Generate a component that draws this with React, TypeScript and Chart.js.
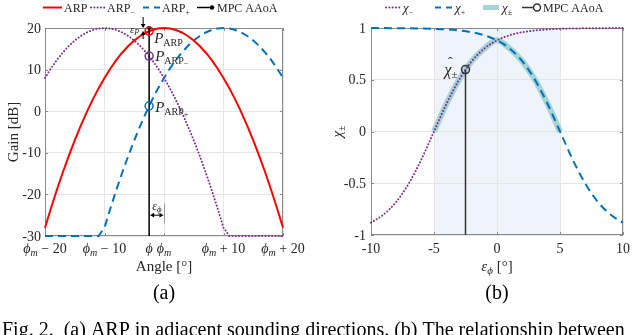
import React, { useEffect, useRef } from 'react';
import { Chart, registerables } from 'chart.js';
Chart.register(...registerables);

// ---------- data: (a) angle response patterns ----------
const angleOffsets = [-20, -19, -18, -17, -16, -15, -14, -13, -12, -11, -10, -9, -8, -7, -6, -5, -4, -3, -2, -1, 0, 1, 2, 3, 4, 5, 6, 7, 8, 9, 10, 11, 12, 13, 14, 15, 16, 17, 18, 19, 20];
const arpGain = [-28, -23.32, -18.88, -14.68, -10.72, -7, -3.52, -0.28, 2.72, 5.48, 8, 10.28, 12.32, 14.12, 15.68, 17, 18.08, 18.92, 19.52, 19.88, 20, 19.88, 19.52, 18.92, 18.08, 17, 15.68, 14.12, 12.32, 10.28, 8, 5.48, 2.72, -0.28, -3.52, -7, -10.72, -14.68, -18.88, -23.32, -28];
const arpMinusGain = [8, 10.28, 12.32, 14.12, 15.68, 17, 18.08, 18.92, 19.52, 19.88, 20, 19.88, 19.52, 18.92, 18.08, 17, 15.68, 14.12, 12.32, 10.28, 8, 5.48, 2.72, -0.28, -3.52, -7, -10.72, -14.68, -18.88, -23.32, -28, -30, -30, -30, -30, -30, -30, -30, -30, -30, -30];
const arpPlusGain = [-30, -30, -30, -30, -30, -30, -30, -30, -30, -30, -28, -23.32, -18.88, -14.68, -10.72, -7, -3.52, -0.28, 2.72, 5.48, 8, 10.28, 12.32, 14.12, 15.68, 17, 18.08, 18.92, 19.52, 19.88, 20, 19.88, 19.52, 18.92, 18.08, 17, 15.68, 14.12, 12.32, 10.28, 8];
const mpcAngle = -2.5;
const mpcLineGain = [-30, 20];
const markerGains = [19.25, 13.25, 1.25]; // P_ARP, P_ARP-, P_ARP+
const gainTicks = [-30, -20, -10, 0, 10, 20];
const gainTickLabels = ['-30', '-20', '-10', '0', '10', '20'];
const angleTicks = [-20, -10, -2.5, 0, 10, 20];
const angleTickLabels = ['ϕ_m − 20', 'ϕ_m − 10', 'ϕ', 'ϕ_m', 'ϕ_m + 10', 'ϕ_m + 20'];
const epsPhiLevel = -25;

// ---------- data: (b) chi vs angle error ----------
const errAngles = [-10, -9, -8, -7, -6, -5, -4, -3, -2, -1, 0, 1, 2, 3, 4, 5, 6, 7, 8, 9, 10];
const chiMinus = [-0.881, -0.802, -0.68, -0.502, -0.27, 0, 0.27, 0.502, 0.68, 0.802, 0.881, 0.93, 0.959, 0.976, 0.986, 0.992, 0.995, 0.997, 0.998, 0.999, 1.0];
const chiPlus = [1.0, 0.999, 0.998, 0.997, 0.995, 0.992, 0.986, 0.976, 0.959, 0.93, 0.881, 0.802, 0.68, 0.502, 0.27, 0, -0.27, -0.502, -0.68, -0.802, -0.881];
const chiPMAngles = [-5, -4, -3, -2, -1, 0, 1, 2, 3, 4, 5];
const chiPM = [0, 0.27, 0.502, 0.68, 0.802, 0.881, 0.802, 0.68, 0.502, 0.27, 0];
const mpcErr = -2.5;
const mpcChi = [-1, 0.5985];
const bandRange = [-5, 5];
const chiTicks = [-1, -0.5, 0, 0.5, 1];
const chiTickLabels = ['-1', '-0.5', '0', '0.5', '1'];
const errTicks = [-10, -5, 0, 5, 10];
const errTickLabels = ['-10', '-5', '0', '5', '10'];

// ---------- styles ----------
const SERIF = '"Liberation Serif", "DejaVu Serif", "Times New Roman", serif';
const RED = '#FF0000';
const PURPLE = '#7E2F8E';
const BLUE = '#0072BD';
const TEAL = '#A6D3D6';
const BAND = '#EFF3FA';
const GRID = '#E6E6E6';
const FRAME = '#8A8A8A';
const TXT = '#262626';
const DOT = [0.1, 3.2];
const DASH = [8, 5];

type Seg = { t: string; f: string; dy?: number };
const F = (size: number, italic = false) => `${italic ? 'italic ' : ''}${size}px ${SERIF}`;

function rich(ctx: any, segs: Seg[], x: number, y: number, align = 'left', color = TXT) {
  ctx.save();
  ctx.fillStyle = color;
  ctx.textAlign = 'left';
  ctx.textBaseline = 'alphabetic';
  const widths = segs.map((s) => { ctx.font = s.f; return ctx.measureText(s.t).width; });
  const total = widths.reduce((a, b) => a + b, 0);
  let cx = align === 'center' ? x - total / 2 : align === 'right' ? x - total : x;
  segs.forEach((s, i) => {
    ctx.font = s.f;
    ctx.fillText(s.t, cx, y + (s.dy || 0));
    cx += widths[i];
  });
  ctx.restore();
  return total;
}

function richRot(ctx: any, segs: Seg[], cx: number, cy: number, color = TXT) {
  ctx.save();
  ctx.translate(cx, cy);
  ctx.rotate(-Math.PI / 2);
  rich(ctx, segs, 0, 0, 'center', color);
  ctx.restore();
}

function mathSegs(s: string, size: number, sub: number, subDy: number): Seg[] {
  const out: Seg[] = [];
  const re = /_(.)|([A-Za-z\u0370-\u03FF]+)|([^_A-Za-z\u0370-\u03FF]+)/g;
  let m: any;
  while ((m = re.exec(s))) {
    if (m[1] !== undefined) out.push({ t: m[1], f: F(sub, true), dy: subDy });
    else if (m[2] !== undefined) out.push({ t: m[2], f: F(size, true) });
    else out.push({ t: m[3], f: F(size) });
  }
  return out;
}

function frame(ctx: any, a: any, xs: any, ys: any, xt: number[], yt: number[]) {
  ctx.save();
  ctx.strokeStyle = FRAME;
  ctx.lineWidth = 1;
  ctx.strokeRect(Math.round(a.left) + 0.5, Math.round(a.top) + 0.5, Math.round(a.right - a.left) - 1, Math.round(a.bottom - a.top) - 1);
  ctx.beginPath();
  xt.forEach((v) => {
    const px = Math.round(xs.getPixelForValue(v)) + 0.5;
    ctx.moveTo(px, a.bottom); ctx.lineTo(px, a.bottom - 3);
    ctx.moveTo(px, a.top); ctx.lineTo(px, a.top + 3);
  });
  yt.forEach((v) => {
    const py = Math.round(ys.getPixelForValue(v)) + 0.5;
    ctx.moveTo(a.left, py); ctx.lineTo(a.left + 3, py);
    ctx.moveTo(a.right, py); ctx.lineTo(a.right - 3, py);
  });
  ctx.stroke();
  ctx.restore();
}

function sample(ctx: any, x1: number, x2: number, y: number, color: string, width: number, dash: number[] = [], cap = 'butt') {
  ctx.save();
  ctx.strokeStyle = color;
  ctx.lineWidth = width;
  ctx.setLineDash(dash);
  ctx.lineCap = cap;
  ctx.beginPath();
  ctx.moveTo(x1, y);
  ctx.lineTo(x2, y);
  ctx.stroke();
  ctx.restore();
}

function arrowHead(ctx: any, x: number, y: number, dir: string, size = 4) {
  ctx.beginPath();
  if (dir === 'down') { ctx.moveTo(x, y); ctx.lineTo(x - size * 0.6, y - size); ctx.lineTo(x + size * 0.6, y - size); }
  if (dir === 'up') { ctx.moveTo(x, y); ctx.lineTo(x - size * 0.6, y + size); ctx.lineTo(x + size * 0.6, y + size); }
  if (dir === 'left') { ctx.moveTo(x, y); ctx.lineTo(x + size, y - size * 0.6); ctx.lineTo(x + size, y + size * 0.6); }
  if (dir === 'right') { ctx.moveTo(x, y); ctx.lineTo(x - size, y - size * 0.6); ctx.lineTo(x - size, y + size * 0.6); }
  ctx.closePath();
  ctx.fill();
}

function axis(min: number, max: number, ticks: number[], size: number, pos: string) {
  return {
    type: 'linear',
    position: pos,
    min,
    max,
    afterBuildTicks: (s: any) => { s.ticks = ticks.map((v) => ({ value: v })); },
    afterFit: (s: any) => { if (pos === 'bottom') s.height = size; else s.width = size; },
    ticks: { display: false },
    grid: { color: GRID, lineWidth: 1, drawTicks: false, tickLength: 0 },
    border: { display: false },
  };
}

const pts = (xs: number[], ys: number[]) => xs.map((x, i) => ({ x, y: ys[i] }));

const leftDecor = {
  id: 'leftDecor',
  beforeDatasetsDraw(chart: any) {
    frame(chart.ctx, chart.chartArea, chart.scales.x, chart.scales.y, angleTicks, gainTicks);
  },
  afterDraw(chart: any) {
    const { ctx, chartArea: a } = chart;
    const xs = chart.scales.x;
    const ys = chart.scales.y;
    gainTicks.forEach((v, i) => rich(ctx, [{ t: gainTickLabels[i], f: F(14) }], a.left - 4, ys.getPixelForValue(v) + 4.5, 'right'));
    angleTicks.forEach((v, i) => rich(ctx, mathSegs(angleTickLabels[i], 14, 10, 3), xs.getPixelForValue(v), 253, 'center'));
    rich(ctx, [{ t: 'Angle [°]', f: F(15) }], (a.left + a.right) / 2, 271, 'center');
    richRot(ctx, [{ t: 'Gain [dB]', f: F(15) }], 18, (a.top + a.bottom) / 2);
    rich(ctx, [{ t: '(a)', f: F(20) }], xs.getPixelForValue(0), 299, 'center', '#000');
    rich(ctx, [{ t: 'Fig. 2.  (a) ARP in adjacent sounding directions. (b) The relationship between', f: F(20) }], 2, 336, 'left', '#000');

    // marker labels
    const px = xs.getPixelForValue(mpcAngle) + 5;
    const yA = ys.getPixelForValue(markerGains[0]);
    const yM = ys.getPixelForValue(markerGains[1]);
    const yP = ys.getPixelForValue(markerGains[2]);
    rich(ctx, [{ t: 'P', f: F(15, true) }, { t: 'ARP', f: F(10), dy: 3 }], px, yA + 12);
    rich(ctx, [{ t: 'P', f: F(15, true) }, { t: 'ARP', f: F(10), dy: 3 }, { t: '−', f: F(8), dy: 5 }], px + 1, yM + 5);
    rich(ctx, [{ t: 'P', f: F(15, true) }, { t: 'ARP', f: F(10), dy: 3 }, { t: '+', f: F(8), dy: 5 }], px + 1, yP + 6);

    // epsilon_P annotation
    ctx.save();
    ctx.strokeStyle = '#000';
    ctx.fillStyle = '#000';
    ctx.lineWidth = 1;
    const ax = xs.getPixelForValue(mpcAngle) - 6;
    const yTop = ys.getPixelForValue(20);
    ctx.beginPath();
    ctx.moveTo(ax, yTop - 11); ctx.lineTo(ax, yTop - 3);
    ctx.moveTo(ax, yA + 3); ctx.lineTo(ax, yA + 8);
    ctx.stroke();
    arrowHead(ctx, ax, yTop, 'down', 4);
    arrowHead(ctx, ax, yA, 'up', 4);
    ctx.restore();
    rich(ctx, [{ t: 'ε', f: F(11, true) }, { t: 'P', f: F(8, true), dy: 2 }], ax - 4, yTop + 5, 'right');

    // epsilon_phi annotation
    const x1 = xs.getPixelForValue(mpcAngle) + 1;
    const x2 = xs.getPixelForValue(0);
    const ay = ys.getPixelForValue(epsPhiLevel);
    ctx.save();
    ctx.strokeStyle = '#999';
    ctx.lineWidth = 1;
    ctx.beginPath();
    ctx.moveTo(Math.round(x2) + 0.5, ys.getPixelForValue(-22.3));
    ctx.lineTo(Math.round(x2) + 0.5, ys.getPixelForValue(-27));
    ctx.stroke();
    ctx.strokeStyle = '#000';
    ctx.fillStyle = '#000';
    ctx.beginPath();
    ctx.moveTo(x1 + 3, ay); ctx.lineTo(x2 - 3, ay);
    ctx.stroke();
    arrowHead(ctx, x1, ay, 'left', 4);
    arrowHead(ctx, x2 - 0.5, ay, 'right', 4);
    ctx.restore();
    rich(ctx, [{ t: 'ε', f: F(12, true) }, { t: 'ϕ', f: F(9, true), dy: 2 }], (x1 + x2) / 2, ay - 5, 'center');

    // legend
    const ly = 7.5;
    const lb = 11.5;
    sample(ctx, 43, 62, ly, RED, 2);
    rich(ctx, [{ t: 'ARP', f: F(12) }], 64, lb);
    sample(ctx, 91, 105, ly, PURPLE, 2, DOT, 'round');
    rich(ctx, [{ t: 'ARP', f: F(12) }, { t: '−', f: F(8), dy: 3 }], 107, lb);
    sample(ctx, 143, 160, ly, BLUE, 2, [6, 5]);
    rich(ctx, [{ t: 'ARP', f: F(12) }, { t: '+', f: F(8), dy: 3 }], 162, lb);
    sample(ctx, 197, 212, ly, '#000', 1.5);
    ctx.save();
    ctx.fillStyle = '#000';
    ctx.beginPath(); ctx.arc(212, ly, 2.2, 0, Math.PI * 2); ctx.fill();
    ctx.restore();
    rich(ctx, [{ t: 'MPC AAoA', f: F(12) }], 217, lb);
  },
};

const rightDecor = {
  id: 'rightDecor',
  beforeDraw(chart: any) {
    const { ctx, chartArea: a } = chart;
    const xs = chart.scales.x;
    const x1 = xs.getPixelForValue(bandRange[0]);
    const x2 = xs.getPixelForValue(bandRange[1]);
    ctx.save();
    ctx.fillStyle = BAND;
    ctx.fillRect(x1, a.top, x2 - x1, a.bottom - a.top);
    ctx.restore();
  },
  beforeDatasetsDraw(chart: any) {
    frame(chart.ctx, chart.chartArea, chart.scales.x, chart.scales.y, errTicks, chiTicks);
  },
  afterDraw(chart: any) {
    const { ctx, chartArea: a } = chart;
    const xs = chart.scales.x;
    const ys = chart.scales.y;
    chiTicks.forEach((v, i) => rich(ctx, [{ t: chiTickLabels[i], f: F(14) }], a.left - 5, ys.getPixelForValue(v) + 4.5, 'right'));
    errTicks.forEach((v, i) => rich(ctx, [{ t: errTickLabels[i], f: F(14) }], xs.getPixelForValue(v), 253, 'center'));
    rich(ctx, [{ t: 'ε', f: F(15, true) }, { t: 'ϕ', f: F(11, true), dy: 3 }, { t: ' [°]', f: F(15) }], (a.left + a.right) / 2, 271, 'center');
    richRot(ctx, [{ t: 'χ', f: F(15, true) }, { t: '±', f: F(10), dy: 3 }], 342, (a.top + a.bottom) / 2);
    rich(ctx, [{ t: '(b)', f: F(20) }], (a.left + a.right) / 2, 299, 'center', '#000');

    // chi-hat label
    const cx = xs.getPixelForValue(mpcErr);
    const cy = ys.getPixelForValue(mpcChi[1]);
    const w = rich(ctx, [{ t: 'χ', f: F(16, true) }, { t: '±', f: F(11), dy: 3 }], cx - 8, cy + 5, 'right');
    rich(ctx, [{ t: 'ˆ', f: F(14) }], cx - 8 - w + 6, cy - 3, 'center');

    // legend
    const ly = 7.5;
    const lb = 11.5;
    sample(ctx, 386, 400, ly, PURPLE, 2, DOT, 'round');
    rich(ctx, [{ t: 'χ', f: F(13, true) }, { t: '−', f: F(8), dy: 3 }], 403, lb);
    sample(ctx, 435, 452, ly, BLUE, 2, [6, 5]);
    rich(ctx, [{ t: 'χ', f: F(13, true) }, { t: '+', f: F(8), dy: 3 }], 455, lb);
    sample(ctx, 483, 499, ly, TEAL, 5);
    rich(ctx, [{ t: 'χ', f: F(13, true) }, { t: '±', f: F(8), dy: 3 }], 502, lb);
    sample(ctx, 522, 533.5, ly, '#333', 1.5);
    ctx.save();
    ctx.strokeStyle = '#333';
    ctx.lineWidth = 1.5;
    ctx.beginPath(); ctx.arc(537, ly, 3.5, 0, Math.PI * 2); ctx.stroke();
    ctx.restore();
    rich(ctx, [{ t: 'MPC AAoA', f: F(12) }], 543, lb);
  },
};

export default function App() {
  const leftRef = useRef<HTMLCanvasElement>(null);
  const rightRef = useRef<HTMLCanvasElement>(null);

  useEffect(() => {
    const left = new Chart(leftRef.current as any, {
      type: 'line',
      data: {
        datasets: [
          { label: 'P_ARP', data: pts([mpcAngle], [markerGains[0]]), showLine: false, pointRadius: 4, pointBorderWidth: 1.5, pointBorderColor: RED, pointBackgroundColor: 'rgba(0,0,0,0)', clip: false },
          { label: 'P_ARP-', data: pts([mpcAngle], [markerGains[1]]), showLine: false, pointRadius: 4, pointBorderWidth: 1.5, pointBorderColor: PURPLE, pointBackgroundColor: 'rgba(0,0,0,0)', clip: false },
          { label: 'P_ARP+', data: pts([mpcAngle], [markerGains[2]]), showLine: false, pointRadius: 4, pointBorderWidth: 1.5, pointBorderColor: BLUE, pointBackgroundColor: 'rgba(0,0,0,0)', clip: false },
          { label: 'MPC AAoA', data: pts([mpcAngle, mpcAngle], mpcLineGain), borderColor: '#000', borderWidth: 1.5, pointRadius: [0, 2], pointBackgroundColor: '#000', pointBorderWidth: 0, clip: false },
          { label: 'ARP', data: pts(angleOffsets, arpGain), borderColor: RED, borderWidth: 2, pointRadius: 0, clip: false },
          { label: 'ARP−', data: pts(angleOffsets, arpMinusGain), borderColor: PURPLE, borderWidth: 2, borderDash: DOT, borderCapStyle: 'round', pointRadius: 0, clip: false },
          { label: 'ARP+', data: pts(angleOffsets, arpPlusGain), borderColor: BLUE, borderWidth: 2, borderDash: DASH, pointRadius: 0, clip: false },
        ],
      } as any,
      options: {
        responsive: false,
        maintainAspectRatio: false,
        animation: false,
        events: [],
        layout: { padding: { left: 0, top: 28, right: 357, bottom: 0 } },
        plugins: { legend: { display: false }, tooltip: { enabled: false } },
        scales: {
          x: axis(-20, 20, angleTicks, 99, 'bottom'),
          y: axis(-30, 20, gainTicks, 45, 'left'),
        } as any,
      },
      plugins: [leftDecor],
    } as any);

    const right = new Chart(rightRef.current as any, {
      type: 'line',
      data: {
        datasets: [
          { label: 'MPC AAoA', data: pts([mpcErr, mpcErr], mpcChi), borderColor: '#333', borderWidth: 1.5, pointRadius: [0, 4], pointBorderColor: '#333', pointBorderWidth: 1.5, pointBackgroundColor: 'rgba(0,0,0,0)', clip: false },
          { label: 'χ−', data: pts(errAngles, chiMinus), borderColor: PURPLE, borderWidth: 2, borderDash: DOT, borderCapStyle: 'round', pointRadius: 0, cubicInterpolationMode: 'monotone', clip: false },
          { label: 'χ+', data: pts(errAngles, chiPlus), borderColor: BLUE, borderWidth: 2, borderDash: DASH, pointRadius: 0, cubicInterpolationMode: 'monotone', clip: false },
          { label: 'χ±', data: pts(chiPMAngles, chiPM), borderColor: TEAL, borderWidth: 6, pointRadius: 0, cubicInterpolationMode: 'monotone', clip: false },
        ],
      } as any,
      options: {
        responsive: false,
        maintainAspectRatio: false,
        animation: false,
        events: [],
        layout: { padding: { left: 361, top: 28, right: 17, bottom: 0 } },
        plugins: { legend: { display: false }, tooltip: { enabled: false } },
        scales: {
          x: axis(-10, 10, errTicks, 100, 'bottom'),
          y: axis(-1, 1, chiTicks, 10, 'left'),
        } as any,
      },
      plugins: [rightDecor],
    } as any);

    return () => {
      left.destroy();
      right.destroy();
    };
  }, []);

  return (
    <div style={{ position: 'fixed', left: 0, top: 0, width: 640, height: 335, background: '#fff', overflow: 'hidden' }}>
      <canvas ref={leftRef} width={640} height={335} style={{ position: 'absolute', left: 0, top: 0 }} />
      <canvas ref={rightRef} width={640} height={335} style={{ position: 'absolute', left: 0, top: 0 }} />
    </div>
  );
}
